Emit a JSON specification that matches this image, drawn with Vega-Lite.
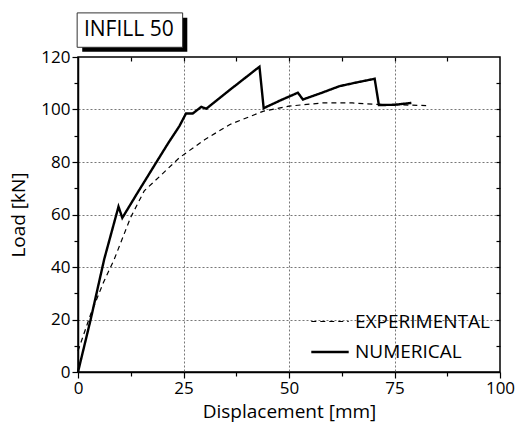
{
  "$schema": "https://vega.github.io/schema/vega-lite/v6.json",
  "width": 422,
  "height": 315,
  "autosize": "none",
  "padding": {"left": 78, "top": 57, "right": 15, "bottom": 60},
  "config": {
    "font": "Open Sans",
    "view": {"stroke": "black", "strokeWidth": 1.5},
    "axis": {
      "domainColor": "black", "domainWidth": 1.5, "tickColor": "black", "tickWidth": 1.2,
      "labelColor": "black", "titleColor": "black", "labelFont": "Open Sans", "titleFont": "Open Sans",
      "labelFontSize": 17, "titleFontSize": 19, "titleFontWeight": "normal",
      "gridColor": "#777", "gridDash": [2, 2], "gridWidth": 1
    },
    "legend": {"labelFont": "Open Sans", "labelFontSize": 19, "labelColor": "black"}
  },
  "datasets": {
    "curves": [
      {"d": 0, "load": 0, "series": "NUMERICAL"},
      {"d": 3, "load": 20, "series": "NUMERICAL"},
      {"d": 6.2, "load": 42.9, "series": "NUMERICAL"},
      {"d": 9.6, "load": 63, "series": "NUMERICAL"},
      {"d": 10.5, "load": 58.7, "series": "NUMERICAL"},
      {"d": 14, "load": 68, "series": "NUMERICAL"},
      {"d": 18.8, "load": 80.5, "series": "NUMERICAL"},
      {"d": 21.5, "load": 87.5, "series": "NUMERICAL"},
      {"d": 24, "load": 93.6, "series": "NUMERICAL"},
      {"d": 25.6, "load": 98.5, "series": "NUMERICAL"},
      {"d": 27.2, "load": 98.5, "series": "NUMERICAL"},
      {"d": 29.2, "load": 101, "series": "NUMERICAL"},
      {"d": 30.4, "load": 100.3, "series": "NUMERICAL"},
      {"d": 36, "load": 107.5, "series": "NUMERICAL"},
      {"d": 43, "load": 116.3, "series": "NUMERICAL"},
      {"d": 44, "load": 100.5, "series": "NUMERICAL"},
      {"d": 48, "load": 103.5, "series": "NUMERICAL"},
      {"d": 52.1, "load": 106.4, "series": "NUMERICAL"},
      {"d": 53.3, "load": 103.8, "series": "NUMERICAL"},
      {"d": 58, "load": 106.5, "series": "NUMERICAL"},
      {"d": 62, "load": 108.9, "series": "NUMERICAL"},
      {"d": 66, "load": 110.3, "series": "NUMERICAL"},
      {"d": 70.3, "load": 111.7, "series": "NUMERICAL"},
      {"d": 71.3, "load": 101.7, "series": "NUMERICAL"},
      {"d": 75, "load": 101.8, "series": "NUMERICAL"},
      {"d": 79, "load": 102.5, "series": "NUMERICAL"},
      {"d": 0, "load": 8, "series": "EXPERIMENTAL"},
      {"d": 3, "load": 22, "series": "EXPERIMENTAL"},
      {"d": 6, "load": 34, "series": "EXPERIMENTAL"},
      {"d": 8.6, "load": 43, "series": "EXPERIMENTAL"},
      {"d": 12.5, "load": 59, "series": "EXPERIMENTAL"},
      {"d": 15.7, "load": 69, "series": "EXPERIMENTAL"},
      {"d": 20, "load": 75.5, "series": "EXPERIMENTAL"},
      {"d": 24, "load": 81.6, "series": "EXPERIMENTAL"},
      {"d": 30, "load": 88.5, "series": "EXPERIMENTAL"},
      {"d": 36, "load": 94.3, "series": "EXPERIMENTAL"},
      {"d": 44, "load": 99.4, "series": "EXPERIMENTAL"},
      {"d": 50, "load": 101.3, "series": "EXPERIMENTAL"},
      {"d": 58, "load": 102.5, "series": "EXPERIMENTAL"},
      {"d": 65, "load": 102.5, "series": "EXPERIMENTAL"},
      {"d": 70, "load": 102, "series": "EXPERIMENTAL"},
      {"d": 76, "load": 101.8, "series": "EXPERIMENTAL"},
      {"d": 82.5, "load": 101.5, "series": "EXPERIMENTAL"}
    ],
    "label": [{"name": "INFILL 50"}]
  },
  "layer": [
    {
      "data": {"name": "curves"},
      "mark": {"type": "line", "color": "black"},
      "encoding": {
        "x": {
          "field": "d", "type": "quantitative", "title": "Displacement [mm]",
          "scale": {"domain": [0, 100], "nice": false},
          "axis": {
            "values": [0, 12.5, 25, 37.5, 50, 62.5, 75, 87.5, 100],
            "labelExpr": "datum.value % 25 == 0 ? datum.label : ''",
            "tickSize": {"condition": {"test": "datum.value % 25 == 0", "value": 6}, "value": 4},
            "gridOpacity": {"condition": {"test": "datum.value % 25 == 0 && datum.value > 0 && datum.value < 100", "value": 1}, "value": 0},
            "labelFlush": false, "labelPadding": 2, "titlePadding": 6
          }
        },
        "y": {
          "field": "load", "type": "quantitative", "title": "Load [kN]",
          "scale": {"domain": [0, 120], "nice": false},
          "axis": {
            "values": [0, 10, 20, 30, 40, 50, 60, 70, 80, 90, 100, 110, 120],
            "labelExpr": "datum.value % 20 == 0 ? datum.label : ''",
            "tickSize": {"condition": {"test": "datum.value % 20 == 0", "value": 6}, "value": 4},
            "gridOpacity": {"condition": {"test": "datum.value % 20 == 0 && datum.value > 0 && datum.value < 120", "value": 1}, "value": 0},
            "labelFlush": false, "labelPadding": 2, "titlePadding": 12
          }
        },
        "strokeDash": {
          "field": "series", "type": "nominal", "title": null,
          "scale": {"domain": ["EXPERIMENTAL", "NUMERICAL"], "range": [[5, 4], [1, 0]]},
          "legend": {"orient": "bottom-right", "offset": 10, "symbolType": "stroke", "symbolSize": 1400, "symbolStrokeColor": "black", "labelOffset": 5, "rowPadding": -13, "padding": 0}
        },
        "strokeWidth": {
          "field": "series", "type": "nominal", "title": null,
          "scale": {"domain": ["EXPERIMENTAL", "NUMERICAL"], "range": [1.2, 2.4]}
        }
      }
    },
    {
      "data": {"name": "label"},
      "mark": {"type": "rule", "opacity": 0},
      "encoding": {
        "x": {"datum": 0, "type": "quantitative", "axis": {"orient": "top", "labels": false, "title": null, "domain": false, "values": [12.5, 25, 37.5, 50, 62.5, 75, 87.5], "tickSize": -4, "grid": false}},
        "y": {"datum": 0, "type": "quantitative", "axis": {"orient": "right", "labels": false, "title": null, "domain": false, "values": [10, 20, 30, 40, 50, 60, 70, 80, 90, 100, 110], "tickSize": -4, "grid": false}}
      }
    },
    {
      "data": {"name": "label"},
      "mark": {"type": "rect", "color": "black", "clip": false},
      "encoding": {
        "x": {"datum": 1, "type": "quantitative", "axis": null},
        "x2": {"datum": 25.9},
        "y": {"datum": 122, "type": "quantitative", "axis": null},
        "y2": {"datum": 135}
      }
    },
    {
      "data": {"name": "label"},
      "mark": {"type": "rect", "fill": "white", "stroke": "#333", "strokeWidth": 1, "clip": false},
      "encoding": {
        "x": {"datum": -0.2, "type": "quantitative", "axis": null},
        "x2": {"datum": 24.8},
        "y": {"datum": 123.7, "type": "quantitative", "axis": null},
        "y2": {"datum": 136.8}
      }
    },
    {
      "data": {"name": "label"},
      "mark": {"type": "text", "font": "Open Sans", "fontSize": 21, "align": "left", "baseline": "middle", "fill": "black", "clip": false},
      "encoding": {
        "text": {"field": "name"},
        "x": {"datum": 1.4, "type": "quantitative", "axis": null},
        "y": {"datum": 130.2, "type": "quantitative", "axis": null}
      }
    }
  ],
  "resolve": {"axis": {"x": "independent", "y": "independent"}}
}
